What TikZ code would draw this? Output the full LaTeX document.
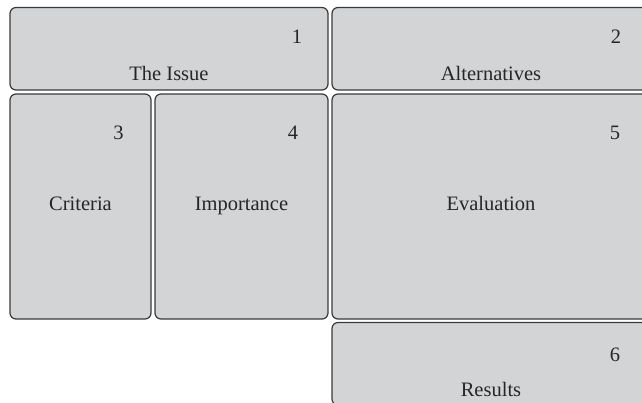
\documentclass[tikz,border=0pt]{standalone}
\usepackage{fontspec}
\setmainfont{Liberation Serif}
\definecolor{boxfill}{HTML}{D3D4D6}
\definecolor{boxline}{HTML}{3A3A3A}
\begin{document}
\begin{tikzpicture}[x=1pt,y=-1pt,
  panel/.style={draw=boxline, fill=boxfill, line width=1.2pt, rounded corners=6pt},
  lbl/.style={anchor=base, inner sep=0pt, text=black!85, font=\fontsize{20.5}{24}\selectfont}]
\useasboundingbox (0,0) rectangle (642,403);
\clip (0,0) rectangle (642,403);
\draw[panel] (10,7.5) rectangle (328,90);
\draw[panel] (332,7.5) rectangle (650,90);
\draw[panel] (10,94) rectangle (151,319);
\draw[panel] (155,94) rectangle (328,319);
\draw[panel] (332,94) rectangle (650,319);
\draw[panel] (332,322.5) rectangle (650,405);
\node[lbl] (n1) at (297,43.5) {1};
\node[lbl] (t1) at (169,81) {The Issue};
\node[lbl] (n2) at (616,44) {2};
\node[lbl] (t2) at (491,81) {Alternatives};
\node[lbl] (n3) at (118.5,140) {3};
\node[lbl] (t3) at (80.5,210.5) {Criteria};
\node[lbl] (n4) at (293,139.5) {4};
\node[lbl] (t4) at (241.5,210.5) {Importance};
\node[lbl] (n5) at (615,139.5) {5};
\node[lbl] (t5) at (491,210.5) {Evaluation};
\node[lbl] (n6) at (615,361) {6};
\node[lbl] (t6) at (491,396) {Results};
\end{tikzpicture}
\end{document}
